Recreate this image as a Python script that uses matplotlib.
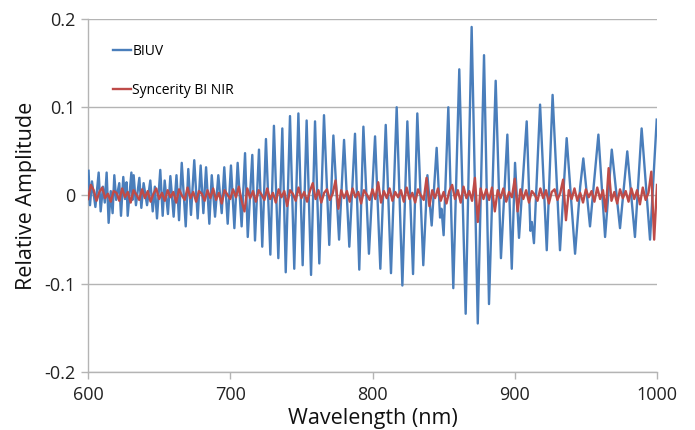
import numpy as np
import matplotlib
matplotlib.use("Agg")
import matplotlib.pyplot as plt

plt.rcParams['font.family'] = ['Open Sans', 'DejaVu Sans']

# ---- données ----
# BIUV : extrêmes (pics / creux) des franges
biuv_nm = [
    600.4, 601.4, 602.8, 605.2, 607.5, 608.9, 610.5, 611.8, 613.1, 614.5,
    616.0, 617.3, 618.5, 619.8, 622.0, 623.2, 624.8, 626.0, 627.1, 627.9,
    630.5, 631.3, 632.1, 633.7, 636.1, 637.5, 639.1, 641.5, 643.8, 645.5,
    647.0, 648.5, 650.8, 652.5, 653.9, 656.2, 657.9, 660.2, 662.2, 664.0,
    665.9, 668.7, 670.5, 672.4, 674.7, 677.1, 679.2, 681.1, 683.0, 685.3,
    687.0, 689.3, 691.6, 694.0, 695.8, 698.2, 700.5, 702.9, 705.2, 708.0,
    710.4, 712.3, 715.5, 717.4, 720.2, 722.5, 725.1, 728.2, 730.7, 733.8,
    736.6, 739.0, 742.0, 745.0, 747.9, 750.9, 753.7, 756.8, 759.6, 762.6,
    765.9, 769.6, 772.5, 776.5, 780.0, 783.7, 787.7, 790.7, 793.6, 797.5,
    801.8, 805.5, 809.3, 813.0, 817.0, 821.0, 824.5, 828.5, 831.5, 835.7,
    838.6, 841.6, 845.1, 847.5, 848.5, 850.0, 853.3, 856.8, 861.0, 865.5,
    869.7, 874.0, 878.4, 881.9, 886.6, 890.3, 894.8, 897.9, 900.2, 903.0,
    908.4, 911.0, 912.0, 913.5, 917.8, 922.5, 926.6, 931.8, 936.5, 942.4,
    946.0, 948.2, 952.9, 958.8, 963.5, 968.2, 974.0, 979.1, 984.5, 989.2,
    995.1, 999.8,
]
biuv_val = [
    0.028, -0.011, 0.016, -0.013, 0.026, -0.018, 0.010, -0.008, 0.026, -0.031,
    0.005, -0.020, 0.023, -0.005, 0.014, -0.023, 0.021, -0.004, 0.015, -0.023,
    0.026, -0.005, 0.023, -0.011, 0.020, -0.014, 0.014, -0.011, 0.017, -0.018,
    0.010, -0.026, 0.029, -0.023, 0.017, -0.021, 0.022, -0.024, 0.023, -0.028,
    0.037, -0.035, 0.030, -0.022, 0.040, -0.026, 0.034, -0.020, 0.032, -0.032,
    0.023, -0.024, 0.023, -0.020, 0.032, -0.032, 0.034, -0.037, 0.037, -0.035,
    0.048, -0.047, 0.046, -0.051, 0.052, -0.058, 0.064, -0.067, 0.079, -0.071,
    0.076, -0.087, 0.090, -0.083, 0.093, -0.079, 0.085, -0.090, 0.084, -0.077,
    0.091, -0.056, 0.068, -0.050, 0.063, -0.058, 0.070, -0.084, 0.078, -0.066,
    0.067, -0.083, 0.080, -0.088, 0.100, -0.102, 0.084, -0.089, 0.093, -0.079,
    0.023, -0.034, 0.054, -0.025, -0.015, -0.045, 0.100, -0.105, 0.143, -0.134,
    0.191, -0.145, 0.159, -0.123, 0.130, -0.071, 0.069, -0.083, 0.037, -0.048,
    0.084, -0.040, -0.030, -0.054, 0.103, -0.062, 0.114, -0.062, 0.065, -0.066,
    0.010, 0.042, -0.035, 0.069, -0.047, 0.052, -0.037, 0.050, -0.047, 0.076,
    -0.050, 0.086,
]

# Syncerity BI NIR : un point tous les 2 nm
nir_nm = np.arange(600, 1001, 2)
nir_val = [
    -0.004, 0.012, 0.006, -0.006, 0.004, 0.009, -0.003, 0.002, -0.007, 0.005,
    0.003, -0.006, 0.008, -0.002, 0.004, -0.008, 0.006, 0.001, -0.005, 0.007,
    -0.003, 0.005, -0.007, 0.002, 0.008, -0.004, 0.003, -0.006, 0.006, -0.002,
    0.004, -0.008, 0.007, 0.000, -0.005, 0.009, -0.003, 0.004, -0.007, 0.005,
    0.002, -0.006, 0.006, -0.003, 0.008, -0.005, 0.003, -0.009, 0.006, 0.001,
    -0.004, 0.007, -0.002, 0.010, -0.006, -0.018, 0.008, -0.003, 0.005, -0.007,
    0.006, 0.001, -0.005, 0.008, -0.004, 0.003, -0.008, 0.007, -0.002, 0.005,
    -0.012, 0.006, 0.002, -0.006, 0.009, -0.003, 0.004, -0.007, 0.005, 0.014,
    -0.004, 0.006, -0.008, 0.003, 0.007, -0.005, 0.002, 0.017, -0.015, 0.006,
    -0.003, 0.005, -0.007, 0.008, -0.002, 0.004, -0.009, 0.006, 0.001, -0.005,
    0.007, -0.004, 0.015, -0.008, 0.005, -0.003, 0.008, -0.006, 0.004, -0.002,
    0.006, -0.007, 0.009, -0.004, 0.003, -0.008, 0.007, 0.000, -0.005, 0.020,
    -0.012, 0.006, -0.003, 0.008, -0.006, 0.004, -0.009, 0.005, 0.012, -0.004,
    0.006, -0.008, 0.010, -0.003, 0.005, -0.006, 0.020, -0.030, 0.008, -0.004,
    0.007, -0.005, 0.009, -0.018, 0.006, -0.003, 0.008, -0.007, 0.004, -0.002,
    0.019, -0.018, 0.007, -0.004, 0.006, -0.008, 0.005, 0.001, -0.006, 0.008,
    -0.003, 0.006, -0.009, 0.004, 0.007, -0.005, 0.003, 0.018, -0.028, 0.006,
    -0.004, 0.008, -0.006, 0.003, -0.008, 0.007, -0.002, 0.005, -0.007, 0.009,
    -0.004, 0.006, -0.018, 0.031, -0.006, 0.004, -0.009, 0.007, -0.003, 0.005,
    -0.007, 0.008, -0.004, 0.006, -0.010, 0.009, -0.005, 0.003, 0.027, -0.050,
    0.012,
]

x_ticks = [600, 700, 800, 900, 1000]
y_ticks = [-0.2, -0.1, 0.0, 0.1, 0.2]
y_labels = ["-0.2", "-0.1", "0", "0.1", "0.2"]

gris = "#b4b4b4"

fig = plt.figure(figsize=(6.95, 4.30), dpi=100)
ax = fig.add_axes([88 / 695, 1 - 372 / 430, 569 / 695, 353 / 430])

ax.plot(biuv_nm, biuv_val, color="#4a7ebb", lw=1.7, label="BIUV", zorder=3,
        solid_joinstyle="round")
ax.plot(nir_nm, nir_val, color="#be4b48", lw=1.7, label="Syncerity BI NIR", zorder=4,
        solid_joinstyle="round")

ax.set_xlim(600, 1000)
ax.set_ylim(-0.2, 0.2)
ax.set_xticks(x_ticks)
ax.set_yticks(y_ticks)
ax.set_yticklabels(y_labels)

ax.grid(axis="y", color=gris, lw=1.0, zorder=0)
for s in ["top", "right"]:
    ax.spines[s].set_visible(False)
for s in ["left", "bottom"]:
    ax.spines[s].set_color(gris)
    ax.spines[s].set_linewidth(1.0)

ax.tick_params(axis="both", direction="out", length=5, width=1.0, color=gris,
               labelsize=13, labelcolor="#222222")
ax.tick_params(axis="x", pad=5)
ax.tick_params(axis="y", pad=4)

ax.set_xlabel("Wavelength (nm)", fontsize=15.5, color="#111111", labelpad=3)
ax.set_ylabel("Relative Amplitude", fontsize=15.5, color="#111111", labelpad=5)

ax.legend(loc="upper left", bbox_to_anchor=(0.044, 0.93), frameon=False,
          fontsize=10, handlelength=1.3, handletextpad=0.1, labelspacing=1.75,
          borderpad=0, borderaxespad=0)

plt.savefig("out.png", dpi=100)
